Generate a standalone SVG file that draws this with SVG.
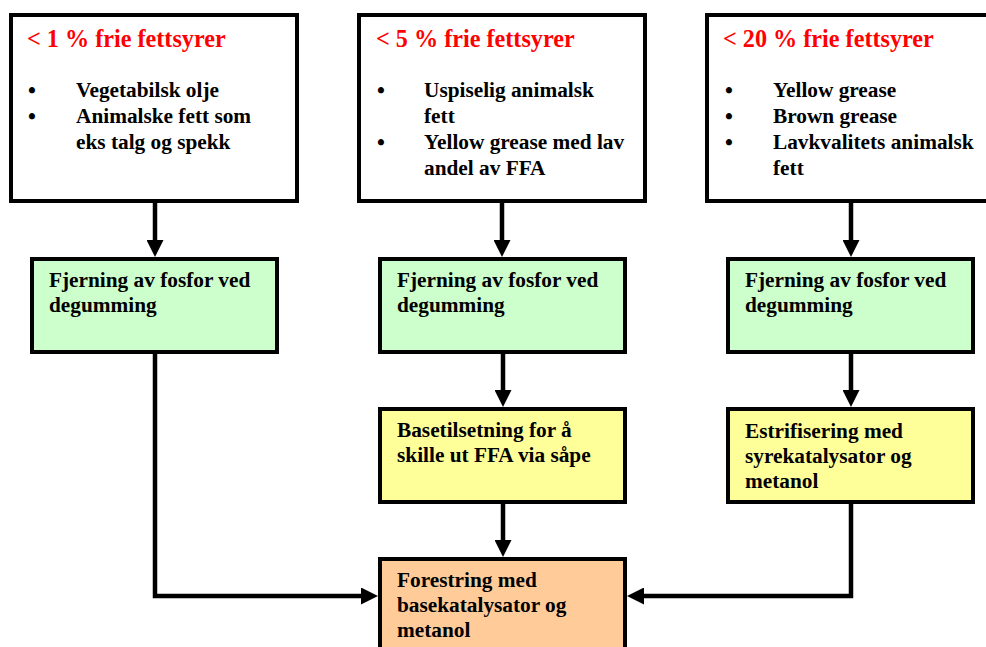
<svg xmlns="http://www.w3.org/2000/svg" width="986" height="647" viewBox="0 0 986 647">
<style>
.box{stroke:#000;stroke-width:4}
.src{fill:#fff}
.green{fill:#ccffcc}
.yellow{fill:#ffff99}
.orange{fill:#ffcc99}
text{font-family:"Liberation Serif","Times New Roman",serif;font-weight:bold;font-size:21.3px;fill:#000}
.title{fill:#ff0000;font-size:24.2px}
.bul{text-anchor:middle;font-size:22.5px}
.conn{fill:none;stroke:#000;stroke-width:4.5;stroke-linejoin:miter}
</style>
<defs>
<marker id="ah" viewBox="0 0 17 17" markerWidth="17" markerHeight="17" markerUnits="userSpaceOnUse" refX="7" refY="8.5" orient="auto">
<path d="M0,0 L17,8.5 L0,17 z" fill="#000"/>
</marker>
</defs>
<rect width="986" height="647" fill="#fff"/>

<g id="src1">
<rect class="box src" x="11" y="15" width="286" height="186"/>
<text class="title" x="27" y="47">&lt; 1 % frie fettsyrer</text>
<text class="bul" x="32" y="97.5">•</text>
<text x="76" y="97">Vegetabilsk olje</text>
<text class="bul" x="32" y="123.5">•</text>
<text x="76" y="123">Animalske fett som</text>
<text x="76" y="149">eks talg og spekk</text>
</g>

<g id="src2">
<rect class="box src" x="359" y="15" width="286" height="186"/>
<text class="title" x="376" y="47">&lt; 5 % frie fettsyrer</text>
<text class="bul" x="381" y="97.5">•</text>
<text x="424" y="97">Uspiselig animalsk</text>
<text x="424" y="123">fett</text>
<text class="bul" x="381" y="149.5">•</text>
<text x="424" y="149">Yellow grease med lav</text>
<text x="424" y="175">andel av FFA</text>
</g>

<g id="src3">
<rect class="box src" x="707" y="15" width="292" height="186"/>
<text class="title" x="723" y="47">&lt; 20 % frie fettsyrer</text>
<text class="bul" x="729" y="97.5">•</text>
<text x="773" y="97">Yellow grease</text>
<text class="bul" x="729" y="123.5">•</text>
<text x="773" y="123">Brown grease</text>
<text class="bul" x="729" y="149.5">•</text>
<text x="773" y="149">Lavkvalitets animalsk</text>
<text x="773" y="175">fett</text>
</g>

<g id="degum1">
<rect class="box green" x="32" y="259" width="245" height="93"/>
<text x="49" y="287">Fjerning av fosfor ved</text>
<text x="49" y="312">degumming</text>
</g>

<g id="degum2">
<rect class="box green" x="380" y="259" width="245" height="93"/>
<text x="397" y="287">Fjerning av fosfor ved</text>
<text x="397" y="312">degumming</text>
</g>

<g id="degum3">
<rect class="box green" x="728" y="259" width="245" height="93"/>
<text x="745" y="287">Fjerning av fosfor ved</text>
<text x="745" y="312">degumming</text>
</g>

<g id="base">
<rect class="box yellow" x="380" y="409" width="245" height="93"/>
<text x="397" y="437">Basetilsetning for å</text>
<text x="397" y="462">skille ut FFA via såpe</text>
</g>

<g id="estr">
<rect class="box yellow" x="728" y="409" width="245" height="93"/>
<text x="745" y="438">Estrifisering med</text>
<text x="745" y="463">syrekatalysator og</text>
<text x="745" y="488">metanol</text>
</g>

<g id="forestring">
<rect class="box orange" x="380" y="559" width="245" height="100"/>
<text x="397" y="587">Forestring med</text>
<text x="397" y="612">basekatalysator og</text>
<text x="397" y="637">metanol</text>
</g>

<g id="connectors">
<path class="conn" marker-end="url(#ah)" d="M155,203 V247"/>
<path class="conn" marker-end="url(#ah)" d="M502,203 V247"/>
<path class="conn" marker-end="url(#ah)" d="M851,203 V247"/>
<path class="conn" marker-end="url(#ah)" d="M503,354 V397"/>
<path class="conn" marker-end="url(#ah)" d="M851,354 V397"/>
<path class="conn" marker-end="url(#ah)" d="M503,504 V547"/>
<path class="conn" marker-end="url(#ah)" d="M155,354 V596 H368"/>
<path class="conn" marker-end="url(#ah)" d="M851,504 V596 H637"/>
</g>
</svg>
